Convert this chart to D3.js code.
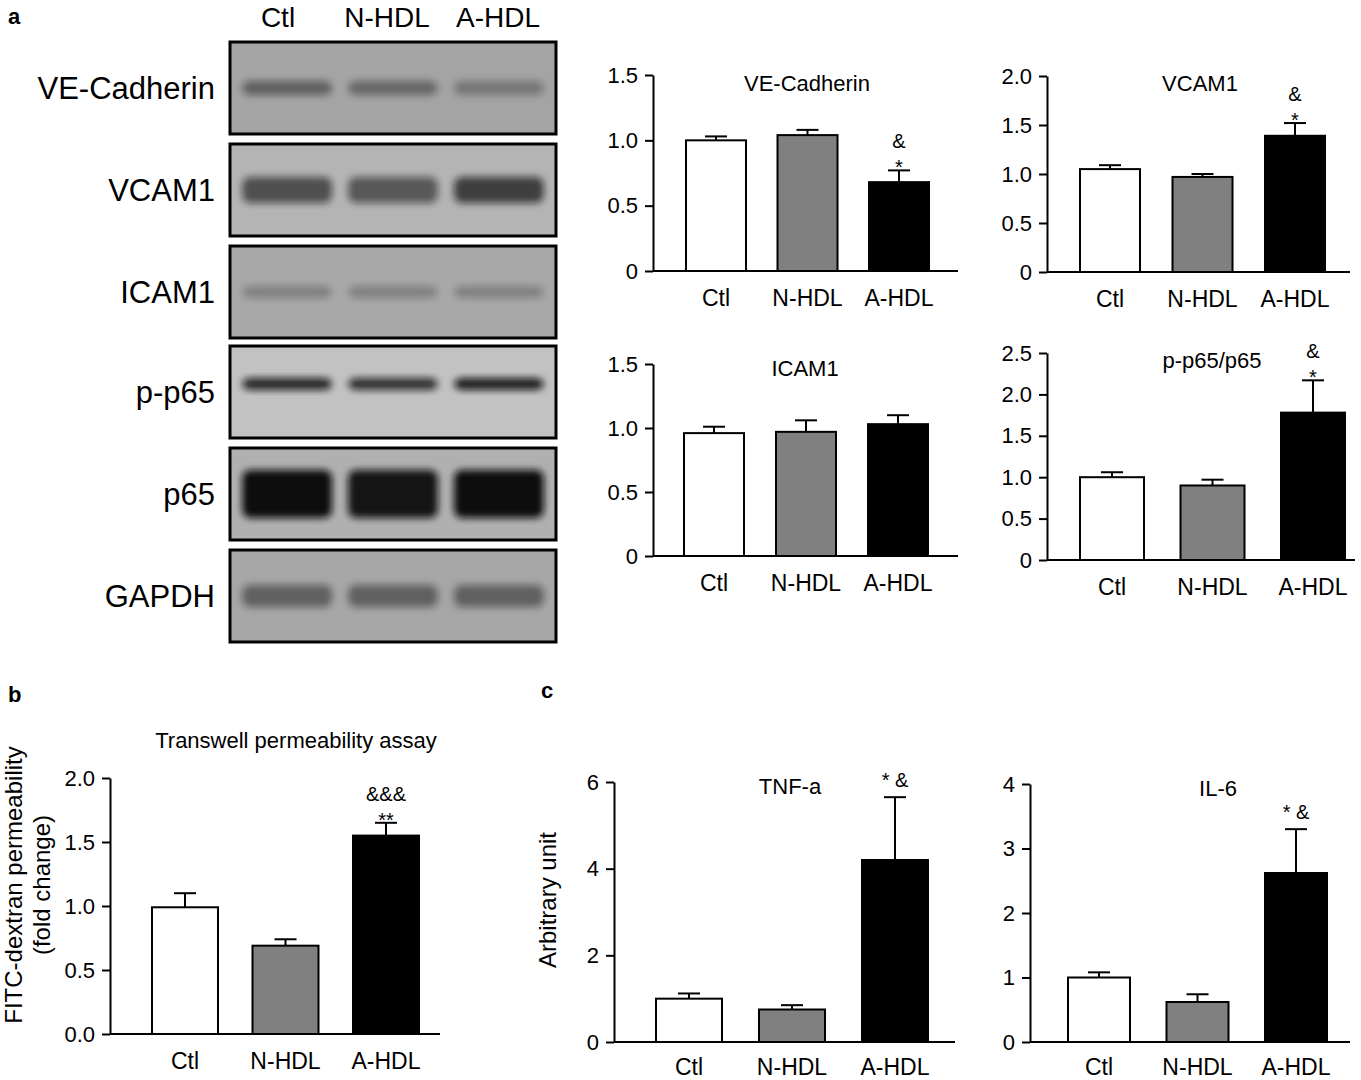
<!DOCTYPE html><html><head><meta charset="utf-8">
<script src="https://cdn.jsdelivr.net/npm/d3@7"></script>
<style>body{margin:0;background:#fff}svg{font-family:"Liberation Sans",Arial,sans-serif}</style></head><body>
<svg id="c" width="1361" height="1080"></svg>
<script>
const groups=["Ctl","N-HDL","A-HDL"];
const fills=["#fff","#808080","#000"];
// blots
const blotNames=["VE-Cadherin","VCAM1","ICAM1","p-p65","p65","GAPDH"];
const blotBg=["#a4a4a4","#b4b4b4","#a8a8a8","#c2c2c2","#b0b0b0","#a6a6a6"];
const blotBand=[[0.45,0.4,0.3],[0.6,0.55,0.7],[0.25,0.25,0.25],[0.85,0.8,0.9],[1,0.95,1],[0.45,0.45,0.45]];
const blotBandH=[14,26,12,12,48,22];
// bar panels
const veVals=[1.0,1.04,0.68], veErr=[0.03,0.04,0.09];
const vcVals=[1.05,0.97,1.39], vcErr=[0.04,0.03,0.13];
const icVals=[0.96,0.97,1.03], icErr=[0.05,0.09,0.07];
const ppVals=[1.0,0.9,1.78], ppErr=[0.06,0.07,0.39];
const twVals=[0.99,0.69,1.55], twErr=[0.11,0.05,0.1];
const tnVals=[1.0,0.75,4.2], tnErr=[0.12,0.1,1.45];
const ilVals=[1.0,0.62,2.62], ilErr=[0.08,0.12,0.68];

const svg=d3.select("#c");
const defs=svg.append("defs");
defs.append("filter").attr("id","bl").attr("x","-20%").attr("y","-50%").attr("width","140%").attr("height","200%")
 .append("feGaussianBlur").attr("stdDeviation",3.5);

function txt(x,y,s,size,anchor="middle",w="normal"){return svg.append("text").attr("x",x).attr("y",y).attr("font-size",size).attr("text-anchor",anchor).attr("font-weight",w).text(s);}

// Panel a blots
txt(8,24,"a",22,"start","bold");
const lanes=d3.scaleBand().domain(groups).range([232,554]).padding(0.04);
[["Ctl",278],["N-HDL",387],["A-HDL",498]].forEach(d=>txt(d[1],27,d[0],28));
const blotTops=[42,144,246,346,448,550];
blotNames.forEach((n,i)=>{
  const y0=blotTops[i],h=92;
  const g=svg.append("g");
  g.append("rect").attr("x",230).attr("y",y0).attr("width",326).attr("height",h).attr("fill",blotBg[i]);
  groups.forEach((gname,j)=>{
    const a=blotBand[i][j];
    g.append("rect").attr("x",lanes(gname)+6).attr("width",lanes.bandwidth()-12)
     .attr("y",y0+h/2-blotBandH[i]/2+(i==3?-8:0)).attr("height",blotBandH[i]).attr("rx",8)
     .attr("fill","#111").attr("opacity",a).attr("filter","url(#bl)");
  });
  g.append("rect").attr("x",230).attr("y",y0).attr("width",326).attr("height",h).attr("fill","none").attr("stroke","#000").attr("stroke-width",3);
  txt(215,y0+h/2+11,n,31,"end");
});

function chart(o){
  const y=d3.scaleLinear().domain([0,o.max]).range([o.y0,o.yTop]);
  const g=svg.append("g");
  const ax=g.append("g").attr("transform",`translate(${o.ax},0)`).call(d3.axisLeft(y).tickValues(o.ticks).tickFormat(o.fmt).tickSize(8).tickSizeOuter(0));
  ax.select(".domain").attr("stroke-width",2);
  ax.selectAll("line").attr("stroke-width",2);
  ax.selectAll("text").attr("font-size",22).attr("font-family","Liberation Sans, Arial").attr("dx",-4);
  g.append("line").attr("x1",o.ax).attr("x2",o.xEnd).attr("y1",o.y0).attr("y2",o.y0).attr("stroke","#000").attr("stroke-width",2);
  const x=d3.scalePoint().domain(groups).range(o.cx);
  const bw=o.bw;
  groups.forEach((gname,i)=>{
    const cx=x(gname), top=y(o.vals[i]), e=y(o.vals[i]+o.err[i]);
    g.append("line").attr("x1",cx).attr("x2",cx).attr("y1",top).attr("y2",e).attr("stroke","#000").attr("stroke-width",2);
    g.append("line").attr("x1",cx-11).attr("x2",cx+11).attr("y1",e).attr("y2",e).attr("stroke","#000").attr("stroke-width",2);
    g.append("rect").attr("x",cx-bw/2).attr("width",bw).attr("y",top).attr("height",o.y0-top).attr("fill",fills[i]).attr("stroke","#000").attr("stroke-width",2);
    txt(cx,o.y0+(o.ld||35),gname,23);
  });
  txt(o.tx,o.ty,o.title,22);
  const cx=x("A-HDL"), e=y(o.vals[2]+o.err[2]);
  if(o.stack){txt(cx,e+4,o.stack[1],20);txt(cx,e-22,o.stack[0],20);}
  if(o.side){txt(cx,e-10,o.side,20);}
}
const f1=d=>d===0?"0":d3.format(".1f")(d);
chart({ax:653,xEnd:958,y0:271,yTop:75,max:1.5,ticks:[0,0.5,1,1.5],fmt:f1,vals:veVals,err:veErr,title:"VE-Cadherin",tx:807,ty:91,stack:["&","*"],cx:[716,899],bw:60});
chart({ax:1047,xEnd:1350,y0:272,yTop:76,max:2,ticks:[0,0.5,1,1.5,2],fmt:f1,vals:vcVals,err:vcErr,title:"VCAM1",tx:1200,ty:91,stack:["&","*"],cx:[1110,1295],bw:60});
chart({ax:653,xEnd:958,y0:556,yTop:364,max:1.5,ticks:[0,0.5,1,1.5],fmt:f1,vals:icVals,err:icErr,title:"ICAM1",tx:805,ty:376,cx:[714,898],bw:60});
chart({ax:1047,xEnd:1355,y0:560,yTop:353,max:2.5,ticks:[0,0.5,1,1.5,2,2.5],fmt:f1,vals:ppVals,err:ppErr,title:"p-p65/p65",tx:1212,ty:368,stack:["&","*"],cx:[1112,1313],bw:64});

txt(8,702,"b",22,"start","bold");
chart({ax:110,xEnd:440,y0:1034,yTop:778,max:2,ticks:[0,0.5,1,1.5,2],fmt:d3.format(".1f"),vals:twVals,err:twErr,title:"Transwell permeability assay",tx:296,ty:748,stack:["&&&","**"],cx:[185,386],bw:66});
svg.append("text").attr("transform","translate(22,885) rotate(-90)").attr("font-size",24).attr("text-anchor","middle").text("FITC-dextran permeability");
svg.append("text").attr("transform","translate(50,885) rotate(-90)").attr("font-size",24).attr("text-anchor","middle").text("(fold change)");

txt(541,698,"c",22,"start","bold");
chart({ax:614,xEnd:955,y0:1042,yTop:782,max:6,ticks:[0,2,4,6],fmt:d3.format("d"),vals:tnVals,err:tnErr,title:"TNF-a",tx:790,ty:794,side:"* &",cx:[689,895],bw:66,ld:33});
chart({ax:1030,xEnd:1350,y0:1042,yTop:784,max:4,ticks:[0,1,2,3,4],fmt:d3.format("d"),vals:ilVals,err:ilErr,title:"IL-6",tx:1218,ty:796,side:"* &",cx:[1099,1296],bw:62,ld:33});
svg.append("text").attr("transform","translate(556,900) rotate(-90)").attr("font-size",24).attr("text-anchor","middle").text("Arbitrary unit");
</script></body></html>
